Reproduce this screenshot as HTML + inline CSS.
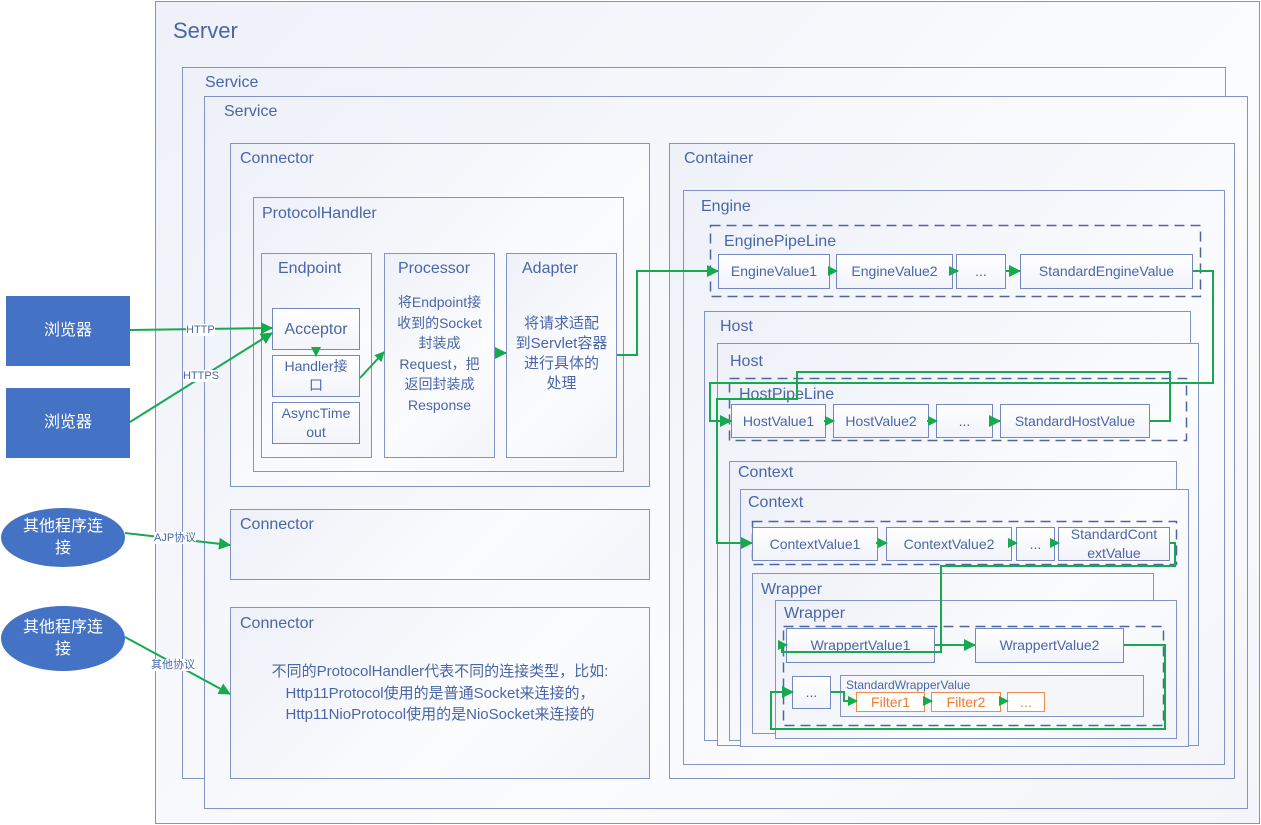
<!DOCTYPE html>
<html><head><meta charset="utf-8"><style>
body{margin:0;width:1261px;height:825px;background:#fff;position:relative;overflow:hidden;font-family:"Liberation Sans","Noto Sans CJK SC",sans-serif;color:#4a66a8}
.b{position:absolute;box-sizing:border-box;border:1px solid #8393c4;background:linear-gradient(135deg,#eef1f8,#fbfcfe 60%,#f3f5fa)}
.t{position:absolute;white-space:nowrap}
.v{position:absolute;box-sizing:border-box;border:1px solid #7487bf;background:linear-gradient(#fff,#f2f4fa);font-size:14px;display:flex;align-items:center;justify-content:center;text-align:center;line-height:19px}
.f{border-color:#ee8a4a;color:#ee7b30;background:#fff}
.blue{position:absolute;background:#4472c4;color:#fff;font-size:16px;display:flex;align-items:center;justify-content:center;text-align:center;line-height:22px}
.lbl{position:absolute;font-size:11px;background:#fff;color:#4a66a8;line-height:12px}
svg{position:absolute;left:0;top:0}
</style></head><body>
<div class="b" style="left:155px;top:1px;width:1105px;height:823px"></div>
<div class="t" style="left:173px;top:18px;font-size:22px">Server</div>
<div class="b" style="left:182px;top:67px;width:1044px;height:712px"></div>
<div class="t" style="left:205px;top:74px;font-size:16px">Service</div>
<div class="b" style="left:204px;top:96px;width:1044px;height:713px"></div>
<div class="t" style="left:224px;top:103px;font-size:16px">Service</div>

<div class="b" style="left:230px;top:143px;width:420px;height:344px"></div>
<div class="t" style="left:240px;top:150px;font-size:16px">Connector</div>
<div class="b" style="left:253px;top:197px;width:371px;height:275px"></div>
<div class="t" style="left:262px;top:205px;font-size:16px">ProtocolHandler</div>
<div class="b" style="left:261px;top:253px;width:111px;height:205px"></div>
<div class="t" style="left:278px;top:260px;font-size:16px">Endpoint</div>
<div class="b" style="left:384px;top:253px;width:111px;height:205px"></div>
<div class="t" style="left:398px;top:260px;font-size:16px">Processor</div>
<div class="t" style="left:384px;top:292px;width:111px;text-align:center;font-size:14px;line-height:20.5px;white-space:normal">将Endpoint接<br>收到的Socket<br>封装成<br>Request，把<br>返回封装成<br>Response</div>
<div class="b" style="left:506px;top:253px;width:111px;height:205px"></div>
<div class="t" style="left:522px;top:260px;font-size:16px">Adapter</div>
<div class="t" style="left:506px;top:314px;width:111px;text-align:center;font-size:15px;line-height:20px;white-space:normal">将请求适配<br>到Servlet容器<br>进行具体的<br>处理</div>
<div class="v" style="left:272px;top:308px;width:88px;height:42px;font-size:16px">Acceptor</div>
<div class="v" style="left:272px;top:355px;width:88px;height:42px">Handler接<br>口</div>
<div class="v" style="left:272px;top:402px;width:88px;height:42px">AsyncTime<br>out</div>

<div class="b" style="left:230px;top:509px;width:420px;height:71px"></div>
<div class="t" style="left:240px;top:516px;font-size:16px">Connector</div>
<div class="b" style="left:230px;top:607px;width:420px;height:172px"></div>
<div class="t" style="left:240px;top:615px;font-size:16px">Connector</div>
<div class="t" style="left:230px;top:661px;width:420px;text-align:center;font-size:15px;line-height:21.5px">不同的ProtocolHandler代表不同的连接类型，比如:<br>Http11Protocol使用的是普通Socket来连接的，<br>Http11NioProtocol使用的是NioSocket来连接的</div>

<div class="blue" style="left:6px;top:296px;width:124px;height:70px">浏览器</div>
<div class="blue" style="left:6px;top:388px;width:124px;height:70px">浏览器</div>
<div class="blue" style="left:1px;top:508px;width:124px;height:59px;border-radius:50%">其他程序连<br>接</div>
<div class="blue" style="left:1px;top:606px;width:124px;height:65px;border-radius:50%">其他程序连<br>接</div>

<div class="b" style="left:669px;top:143px;width:566px;height:636px"></div>
<div class="t" style="left:684px;top:150px;font-size:16px">Container</div>
<div class="b" style="left:683px;top:190px;width:542px;height:575px"></div>
<div class="t" style="left:701px;top:198px;font-size:16px">Engine</div>
<div class="t" style="left:724px;top:233px;font-size:16px">EnginePipeLine</div>
<div class="v" style="left:718px;top:254px;width:112px;height:35px">EngineValue1</div>
<div class="v" style="left:836px;top:254px;width:117px;height:35px">EngineValue2</div>
<div class="v" style="left:956px;top:254px;width:50px;height:35px">...</div>
<div class="v" style="left:1020px;top:254px;width:173px;height:35px">StandardEngineValue</div>

<div class="b" style="left:704px;top:311px;width:487px;height:430px"></div>
<div class="t" style="left:720px;top:318px;font-size:16px">Host</div>
<div class="b" style="left:717px;top:343px;width:482px;height:403px"></div>
<div class="t" style="left:730px;top:353px;font-size:16px">Host</div>
<div class="t" style="left:739px;top:386px;font-size:16px">HostPipeLine</div>
<div class="v" style="left:731px;top:404px;width:95px;height:34px">HostValue1</div>
<div class="v" style="left:833px;top:404px;width:96px;height:34px">HostValue2</div>
<div class="v" style="left:936px;top:404px;width:57px;height:34px">...</div>
<div class="v" style="left:1000px;top:404px;width:150px;height:34px">StandardHostValue</div>

<div class="b" style="left:729px;top:461px;width:448px;height:280px"></div>
<div class="t" style="left:738px;top:464px;font-size:16px">Context</div>
<div class="b" style="left:740px;top:489px;width:449px;height:258px"></div>
<div class="t" style="left:748px;top:494px;font-size:16px">Context</div>
<svg width="1261" height="825" style="position:absolute;left:0;top:0"><g fill="none" stroke="#4f64a0" stroke-width="1.5" stroke-dasharray="10,6">
<rect x="710.5" y="225.5" width="490" height="71"/>
<rect x="729.5" y="378.5" width="457" height="62"/>
<rect x="752.5" y="521.5" width="424" height="43"/>
<rect x="783.5" y="626.5" width="380" height="99"/>
</g></svg>
<div class="v" style="left:752px;top:527px;width:126px;height:34px">ContextValue1</div>
<div class="v" style="left:886px;top:527px;width:126px;height:34px">ContextValue2</div>
<div class="v" style="left:1016px;top:527px;width:39px;height:34px">...</div>
<div class="v" style="left:1058px;top:527px;width:112px;height:34px;line-height:19px">StandardCont<br>extValue</div>

<div class="b" style="left:752px;top:573px;width:402px;height:161px"></div>
<div class="t" style="left:761px;top:581px;font-size:16px">Wrapper</div>
<div class="b" style="left:775px;top:600px;width:402px;height:139px"></div>
<div class="t" style="left:784px;top:605px;font-size:16px">Wrapper</div>
<svg width="1261" height="825" style="position:absolute;left:0;top:0"><g fill="none" stroke="#4f64a0" stroke-width="1.5" stroke-dasharray="10,6">
<rect x="783.5" y="626.5" width="380" height="99"/>
</g></svg>
<div class="v" style="left:786px;top:628px;width:149px;height:35px">WrappertValue1</div>
<div class="v" style="left:975px;top:628px;width:149px;height:35px">WrappertValue2</div>
<div class="v" style="left:792px;top:676px;width:39px;height:33px">...</div>
<div class="b" style="left:840px;top:675px;width:304px;height:42px;background:#f5f6fa"></div>
<div class="t" style="left:846px;top:678px;font-size:12px">StandardWrapperValue</div>
<div class="v f" style="left:856px;top:692px;width:69px;height:20px">Filter1</div>
<div class="v f" style="left:931px;top:692px;width:70px;height:20px">Filter2</div>
<div class="v f" style="left:1007px;top:692px;width:38px;height:20px">...</div>

<svg width="1261" height="825">
<defs><marker id="a" markerWidth="10" markerHeight="10" refX="9" refY="5" orient="auto" markerUnits="userSpaceOnUse"><path d="M0,0L10,5L0,10z" fill="#16a94e"/></marker>
<marker id="s" markerWidth="12" markerHeight="12" refX="11" refY="6" orient="auto" markerUnits="userSpaceOnUse"><path d="M0,0L12,6L0,12z" fill="#16a94e"/></marker></defs>
<g stroke="#16a94e" stroke-width="2" fill="none">
<path d="M130,330L272,328" marker-end="url(#s)"/>
<path d="M130,422L272,333" marker-end="url(#s)"/>
<path d="M316,347L316,356" marker-end="url(#a)"/>
<path d="M360,378L384,352" marker-end="url(#a)"/>
<path d="M495,353L506,353" marker-end="url(#s)"/>
<path d="M617,355L637,355L637,271L718,271" marker-end="url(#s)"/>
<path d="M828,271L837,271" marker-end="url(#a)"/>
<path d="M951,271L958,271" marker-end="url(#a)"/>
<path d="M1006,271L1020,271" marker-end="url(#s)"/>
<path d="M1193,271L1213,271L1213,383L710,383L710,421L731,421" marker-end="url(#s)"/>
<path d="M824,421L834,421" marker-end="url(#a)"/>
<path d="M927,421L937,421" marker-end="url(#a)"/>
<path d="M993,421L1000,421" marker-end="url(#s)"/>
<path d="M1150,421L1170,421L1170,372L797,372L797,399L717,399L717,543L752,543" marker-end="url(#s)"/>
<path d="M876,543L887,543" marker-end="url(#a)"/>
<path d="M1010,543L1017,543" marker-end="url(#a)"/>
<path d="M1050,543L1059,543" marker-end="url(#a)"/>
<path d="M1170,543L1175,543L1175,566L941,566L941,652L782,652L782,645L787,645" marker-end="url(#a)"/>
<path d="M935,645L975,645" marker-end="url(#s)"/>
<path d="M1124,645L1165,645L1165,729L771,729L771,692L793,692" marker-end="url(#s)"/>
<path d="M831,692L844,692L844,701L857,701" marker-end="url(#a)"/>
<path d="M923,701L932,701" marker-end="url(#a)"/>
<path d="M999,701L1008,701" marker-end="url(#a)"/>
<path d="M125,533L230,545" marker-end="url(#s)"/>
<path d="M125,637L230,694" marker-end="url(#s)"/>
</g></svg>
<div class="lbl" style="left:186px;top:324px">HTTP</div>
<div class="lbl" style="left:183px;top:370px">HTTPS</div>
<div class="lbl" style="left:154px;top:532px">AJP协议</div>
<div class="lbl" style="left:151px;top:659px">其他协议</div>
</body></html>
